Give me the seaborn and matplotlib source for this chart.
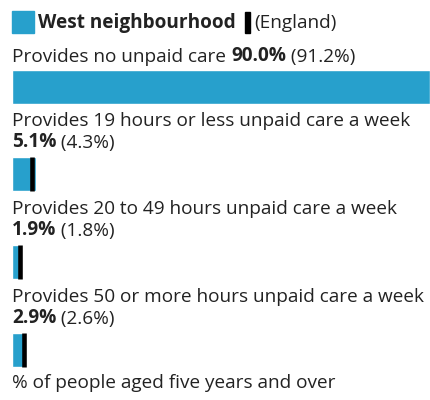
import matplotlib
matplotlib.use("Agg")
import matplotlib.pyplot as plt
import matplotlib.patches as mpatches
import seaborn as sns
import pandas as pd

categories = [
    "Provides no unpaid care",
    "Provides 19 hours or less unpaid care a week",
    "Provides 20 to 49 hours unpaid care a week",
    "Provides 50 or more hours unpaid care a week",
]
west_values = [90.0, 5.1, 1.9, 2.9]
england_values = [91.2, 4.3, 1.8, 2.6]
wrap_value = [False, True, True, True]

BLUE = "#27a0cc"
TEXT = "#222222"
W, H = 431, 400
FS = 13.7

sns.set_theme(style="white")
plt.rcParams["font.family"] = ["Open Sans", "DejaVu Sans"]
plt.rcParams["text.color"] = TEXT

df = pd.DataFrame({"category": categories, "west": west_values, "england": england_values})

fig = plt.figure(figsize=(W / 100, H / 100), dpi=100)

# bars: category centres at 86.5px and 350px from top
top_c, bot_c = 86.5, 350.0
step = (bot_c - top_c) / 3
ax_top = top_c - step / 2
ax_bot = bot_c + step / 2
ax = fig.add_axes([12 / W, (H - ax_bot) / H, 418 / W, (ax_bot - ax_top) / H])
bar_h = 34 / step

sns.barplot(data=df, x="west", y="category", orient="h", color=BLUE,
            width=bar_h, saturation=1, ax=ax)
ax.vlines(df["england"], [i - bar_h / 2 for i in range(len(df))],
          [i + bar_h / 2 for i in range(len(df))], colors="black",
          linewidth=3.3, capstyle="butt", zorder=3)
ax.set_xlim(0, max(west_values))
ax.set_ylim(len(df) - 0.5, -0.5)
ax.axis("off")


def chain(parent, s, bold=False):
    return ax.annotate(s, xy=(1, 0), xycoords=parent, va="bottom", ha="left",
                       fontsize=FS, fontweight="bold" if bold else "normal",
                       color=TEXT, annotation_clip=False)


for i, row in df.iterrows():
    bar_top = (i - bar_h / 2)
    if wrap_value[i]:
        t1 = ax.annotate(row["category"], xy=(0, bar_top), xycoords="data",
                         xytext=(0, 10 + 21), textcoords="offset pixels",
                         va="baseline", ha="left", fontsize=FS, color=TEXT,
                         annotation_clip=False)
        v = ax.annotate(f"{row['west']:.1f}%", xy=(0, bar_top), xycoords="data",
                        xytext=(0, 10), textcoords="offset pixels",
                        va="baseline", ha="left", fontsize=FS, fontweight="bold",
                        color=TEXT, annotation_clip=False)
        chain(v, f" ({row['england']:.1f}%)")
    else:
        t1 = ax.annotate(row["category"] + " ", xy=(0, bar_top), xycoords="data",
                         xytext=(0, 7.5), textcoords="offset pixels",
                         va="baseline", ha="left", fontsize=FS, color=TEXT,
                         annotation_clip=False)
        v = chain(t1, f"{row['west']:.1f}%", bold=True)
        chain(v, f" ({row['england']:.1f}%)")

# legend
fig.patches.append(mpatches.Rectangle((12 / W, (H - 33) / H), 22 / W, 22 / H,
                                      transform=fig.transFigure, color=BLUE))
fig.text(38 / W, (H - 28) / H, "West neighbourhood", fontsize=FS,
         fontweight="bold", color=TEXT, va="baseline")
fig.patches.append(mpatches.Rectangle((245 / W, (H - 33) / H), 4.5 / W, 21 / H,
                                      transform=fig.transFigure, color="black"))
fig.text(254 / W, (H - 28) / H, "(England)", fontsize=FS, color=TEXT, va="baseline")

fig.text(12 / W, (H - 388) / H, "% of people aged five years and over",
         fontsize=FS, color=TEXT, va="baseline")

fig.savefig("out.png", dpi=100)
